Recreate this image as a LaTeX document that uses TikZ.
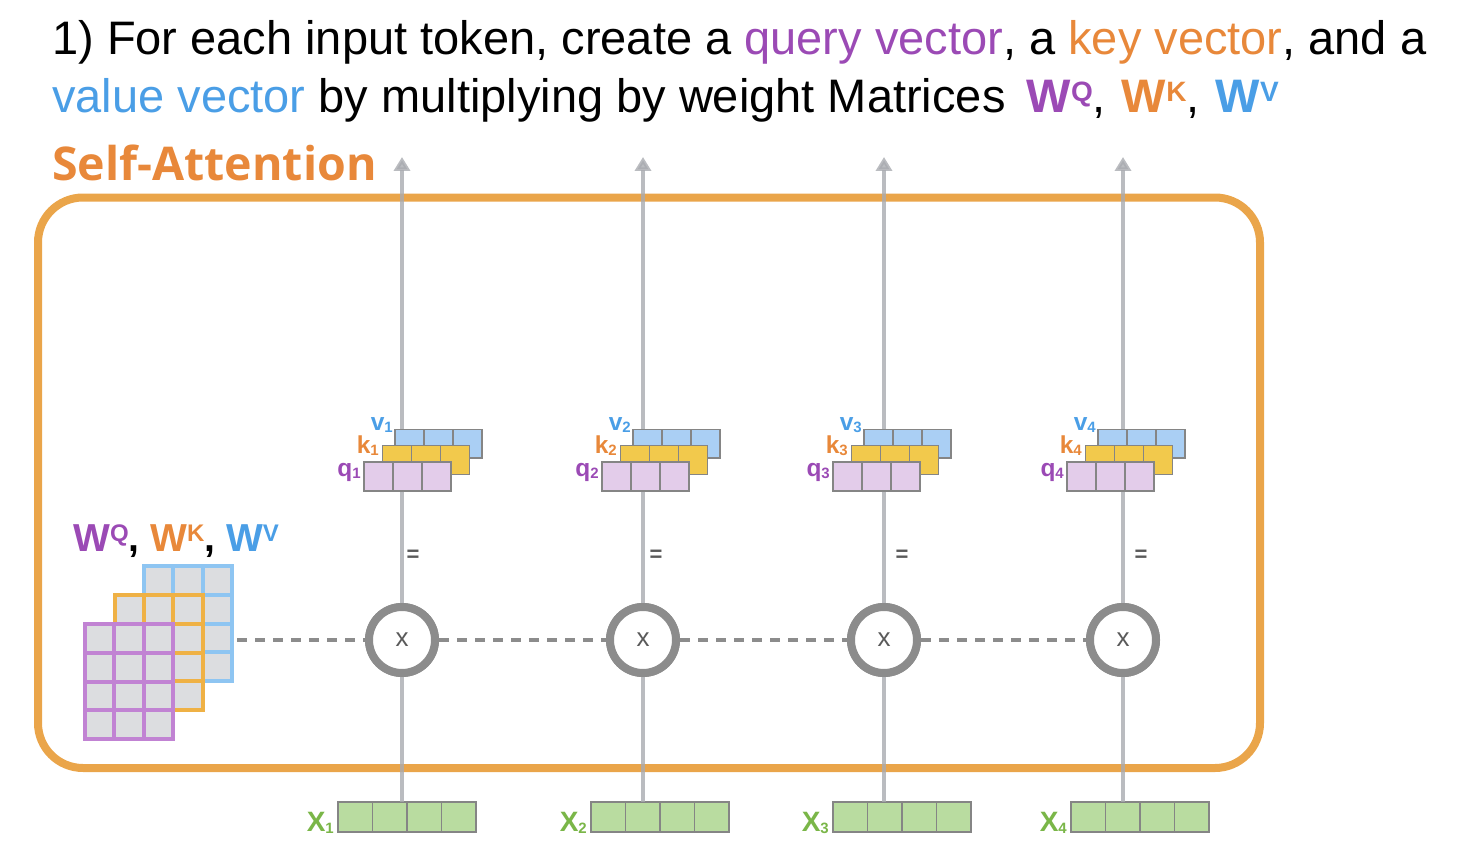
\documentclass[tikz,border=0pt]{standalone}
\usepackage{fontspec}
\setmainfont{Liberation Sans}
\newfontfamily\osans{Open Sans}
\usetikzlibrary{arrows.meta,calc}
\definecolor{qc}{HTML}{9B4AB5}
\definecolor{kc}{HTML}{E8883A}
\definecolor{vc}{HTML}{4A9EE6}
\definecolor{xc}{HTML}{7AB648}
\definecolor{border}{HTML}{EAA54A}
\definecolor{qfill}{HTML}{E3CCEA}
\definecolor{kfill}{HTML}{F2C94C}
\definecolor{vfill}{HTML}{AACFF4}
\definecolor{xfill}{HTML}{B9DCA0}
\definecolor{cellgray}{HTML}{858585}
\definecolor{cellbg}{HTML}{DCDDE0}
\definecolor{wq}{HTML}{C183D3}
\definecolor{wk}{HTML}{EFB145}
\definecolor{wv}{HTML}{8EC5F2}
\definecolor{ring}{HTML}{8C8C8C}
\definecolor{vline}{HTML}{A9ABB0}
\definecolor{eqc}{HTML}{5A5A5A}
\newcommand\divs[4]{\foreach \i in {#2} \draw[celldiv] ($(#1.north west)+(\i*#3,0)$) -- ++(0,#4);}
\newcommand\wgrid[4]{%
  \node[wmat, draw=#4] (#1) at (#2,#3) {};
  \foreach \i in {1,2} \draw[#4, line width=4pt] ($(#1.north west)+(\i*29.33,0)$) -- ++(0,115);
  \foreach \j in {1,2,3} \draw[#4, line width=4pt] ($(#1.north west)+(0,\j*28.75)$) -- ++(88,0);}
\newcommand\sub[1]{\raisebox{-2pt}{\fontsize{15}{15}\selectfont #1}}
\begin{document}
\begin{tikzpicture}[x=1pt,y=-1pt,
  cellbox/.style={draw=cellgray, line width=1.4pt, anchor=north west, inner sep=0pt, outer sep=0pt},
  celldiv/.style={cellgray, line width=1.4pt},
  wmat/.style={line width=4pt, fill=cellbg, anchor=north west, minimum width=88pt, minimum height=115pt, inner sep=0pt, outer sep=0pt},
  vlab/.style={anchor=base east, inner sep=0pt, font=\bfseries\fontsize{24.5}{24}\selectfont},
  vlinestyle/.style={draw=vline, line width=3.5pt, opacity=0.8, -{Triangle[width=16pt,length=14pt]}},
  dashline/.style={draw=ring, line width=4pt, dash pattern=on 10pt off 8pt},
  mult/.style={circle, draw=ring, line width=8pt, fill=white, minimum size=66pt, inner sep=0pt, text=eqc, font=\fontsize{26}{26}\selectfont},
  eqsign/.style={text=eqc, font=\bfseries\fontsize{22}{22}\selectfont, inner sep=0pt}
]
\useasboundingbox (0,0) rectangle (1470,864);

% title
\node[anchor=base west, inner sep=0pt, font=\fontsize{47}{56}\selectfont] (t1line) at (52,55)
  {1) For each input token, create a \textcolor{qc}{query vector}, a \textcolor{kc}{key vector}, and a};
\node[anchor=base west, inner sep=0pt, font=\fontsize{47}{56}\selectfont] (t2line) at (52,113)
  {\textcolor{vc}{value vector} by multiplying by weight Matrices\hspace{8pt}
   \textcolor{qc}{\bfseries W\raisebox{11pt}{\fontsize{28}{28}\selectfont Q}},\hspace{3pt} \textcolor{kc}{\bfseries W\raisebox{11pt}{\fontsize{28}{28}\selectfont K}},\hspace{3pt} \textcolor{vc}{\bfseries W\raisebox{11pt}{\fontsize{28}{28}\selectfont V}}};
\node[anchor=base west, inner sep=0pt, text=kc, font=\osans\bfseries\fontsize{46.5}{50}\selectfont] (sa) at (52,180) {Self-Attention};

% border
\draw[border, line width=8pt, rounded corners=45pt] (38,197.5) rectangle (1260,768);

% weight matrices
\node[anchor=base west, inner sep=0pt, font=\bfseries\fontsize{39}{40}\selectfont] (wlab) at (73,551)
  {\textcolor{qc}{W\raisebox{10pt}{\fontsize{24}{24}\selectfont Q}}, \textcolor{kc}{W\raisebox{10pt}{\fontsize{24}{24}\selectfont K}}, \textcolor{vc}{W\raisebox{10pt}{\fontsize{24}{24}\selectfont V}}};
\wgrid{Wv}{144}{566}{wv}
\wgrid{Wk}{114.5}{595}{wk}
\wgrid{Wq}{85}{624}{wq}

% columns: vertical arrows
\foreach \n/\lx/\qx/\xx/\ex in {1/402/364/338/413, 2/643/602/591/656, 3/884/833/833/902, 4/1123/1067/1071/1141}{
  \coordinate (t\n) at (\lx,157);
  \node[cellbox, fill=xfill, minimum width=138pt, minimum height=30pt] (x\n) at (\xx,802) {};
  \divs{x\n}{1,2,3}{34.5}{30}
  \node[anchor=base east, inner sep=0pt, text=xc, font=\bfseries\fontsize{28}{28}\selectfont] (xl\n) at ([xshift=-4pt]\xx,831) {X\sub{\n}};
  \draw[vlinestyle] (x\n.north -| t\n) -- (t\n);
  \node[mult] (c\n) at (\lx,640) {x};
  \node[eqsign] (e\n) at (\ex,556) {=};
}

% dashed connectors
\draw[dashline] ([xshift=5pt]Wv.east |- c1) -- (c1.west);
\draw[dashline] (c1.east) -- (c2.west);
\draw[dashline] (c2.east) -- (c3.west);
\draw[dashline] (c3.east) -- (c4.west);
\foreach \n in {1,...,4}{\node[mult] at (c\n) {x};}

% q k v vectors
\foreach \n/\qx in {1/364, 2/602, 3/833, 4/1067}{
  \node[cellbox, fill=vfill, minimum width=87pt, minimum height=28.5pt] (v\n) at (\qx+31,429.5) {};
  \divs{v\n}{1,2}{29}{28.5}
  \node[cellbox, fill=kfill, minimum width=87pt, minimum height=29pt] (k\n) at (\qx+18.5,445.5) {};
  \divs{k\n}{1,2}{29}{29}
  \node[cellbox, fill=qfill, minimum width=87pt, minimum height=29pt] (q\n) at (\qx,462) {};
  \divs{q\n}{1,2}{29}{29}
  \node[vlab, text=vc] (vl\n) at (\qx+29,430) {v\sub{\n}};
  \node[vlab, text=kc] (kl\n) at (\qx+15,453) {k\sub{\n}};
  \node[vlab, text=qc] (ql\n) at (\qx-3,476) {q\sub{\n}};
}
\end{tikzpicture}
\end{document}
